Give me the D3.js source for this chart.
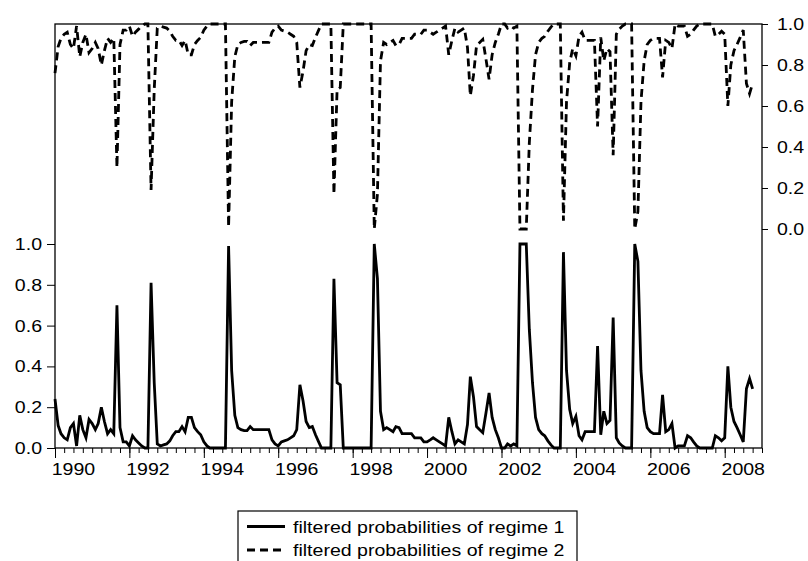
<!DOCTYPE html>
<html>
<head>
<meta charset="utf-8">
<script src="https://cdn.jsdelivr.net/npm/d3@7"></script>
<style>
  body { margin: 0; background: #fff; }
  svg { display: block; font-family: Arial, "Liberation Sans", sans-serif; }
</style>
</head>
<body>
<div id="chart"></div>
<script>
/* ================================================
   Filtered regime probabilities, monthly 1990:01 - 2008:10
   ================================================ */

var startYear = 1990;

// regime 1 (solid, left axis), one value per month
var regime1 = [
  0.24, 0.11, 0.07, 0.05, 0.04, 0.10, 0.12, 0.01, 0.16, 0.09, 0.05, 0.14,   // 1990
  0.12, 0.09, 0.12, 0.20, 0.13, 0.07, 0.09, 0.07, 0.70, 0.10, 0.03, 0.03,   // 1991
  0.01, 0.06, 0.04, 0.025, 0.01, 0.00, 0.00, 0.81, 0.32, 0.02, 0.01, 0.015, // 1992
  0.02, 0.035, 0.06, 0.08, 0.08, 0.105, 0.08, 0.15, 0.15, 0.10, 0.08, 0.065,// 1993
  0.03, 0.01, 0.00, 0.00, 0.00, 0.00, 0.00, 0.00, 0.99, 0.38, 0.16, 0.10,   // 1994
  0.09, 0.085, 0.085, 0.105, 0.09, 0.09, 0.09, 0.09, 0.09, 0.09, 0.04, 0.02,// 1995
  0.01, 0.03, 0.035, 0.04, 0.05, 0.06, 0.09, 0.31, 0.23, 0.13, 0.10, 0.105, // 1996
  0.065, 0.03, 0.00, 0.00, 0.00, 0.00, 0.83, 0.32, 0.31, 0.00, 0.00, 0.00,  // 1997
  0.00, 0.00, 0.00, 0.00, 0.00, 0.00, 0.00, 1.00, 0.83, 0.18, 0.09, 0.10,   // 1998
  0.09, 0.08, 0.105, 0.10, 0.07, 0.07, 0.07, 0.07, 0.05, 0.05, 0.05, 0.03,  // 1999
  0.03, 0.04, 0.05, 0.04, 0.03, 0.02, 0.01, 0.15, 0.08, 0.02, 0.04, 0.03,   // 2000
  0.02, 0.115, 0.35, 0.25, 0.105, 0.09, 0.075, 0.17, 0.27, 0.15, 0.09, 0.05,// 2001
  0.00, 0.00, 0.02, 0.01, 0.02, 0.01, 1.00, 1.00, 1.00, 0.58, 0.32, 0.15,   // 2002
  0.09, 0.07, 0.06, 0.035, 0.015, 0.00, 0.00, 0.00, 0.96, 0.38, 0.19, 0.12, // 2003
  0.155, 0.06, 0.04, 0.08, 0.08, 0.08, 0.08, 0.50, 0.065, 0.18, 0.12, 0.135,// 2004
  0.64, 0.05, 0.025, 0.01, 0.00, 0.00, 0.00, 1.00, 0.915, 0.38, 0.18, 0.10, // 2005
  0.08, 0.07, 0.07, 0.07, 0.26, 0.08, 0.09, 0.12, 0.00, 0.01, 0.01, 0.01,   // 2006
  0.06, 0.05, 0.03, 0.01, 0.00, 0.00, 0.00, 0.00, 0.00, 0.06, 0.05, 0.035,  // 2007
  0.05, 0.40, 0.20, 0.13, 0.10, 0.065, 0.03, 0.29, 0.34, 0.29               // 2008
];

// regime 2 (dashed, right axis)
var regime2 = [
  0.76, 0.89, 0.93, 0.95, 0.96, 0.90, 0.88, 0.99, 0.84, 0.91, 0.95, 0.86,
  0.88, 0.91, 0.88, 0.80, 0.87, 0.93, 0.91, 0.93, 0.30, 0.90, 0.97, 0.97,
  0.99, 0.94, 0.96, 0.975, 0.99, 1.00, 1.00, 0.19, 0.68, 0.98, 0.99, 0.985,
  0.98, 0.965, 0.94, 0.92, 0.92, 0.895, 0.92, 0.85, 0.85, 0.90, 0.92, 0.935,
  0.97, 0.99, 1.00, 1.00, 1.00, 1.00, 1.00, 1.00, 0.01, 0.62, 0.84, 0.90,
  0.91, 0.915, 0.915, 0.895, 0.91, 0.91, 0.91, 0.91, 0.91, 0.91, 0.96, 0.98,
  0.99, 0.97, 0.965, 0.96, 0.95, 0.94, 0.91, 0.69, 0.77, 0.87, 0.90, 0.895,
  0.935, 0.97, 1.00, 1.00, 1.00, 1.00, 0.17, 0.68, 0.69, 1.00, 1.00, 1.00,
  1.00, 1.00, 1.00, 1.00, 1.00, 1.00, 1.00, 0.00, 0.17, 0.82, 0.91, 0.90,
  0.91, 0.92, 0.895, 0.90, 0.93, 0.93, 0.93, 0.93, 0.95, 0.95, 0.95, 0.97,
  0.97, 0.96, 0.95, 0.96, 0.97, 0.98, 0.99, 0.85, 0.92, 0.98, 0.96, 0.97,
  0.98, 0.885, 0.65, 0.75, 0.895, 0.91, 0.925, 0.83, 0.73, 0.85, 0.91, 0.95,
  1.00, 1.00, 0.98, 0.99, 0.98, 0.99, 0.00, 0.00, 0.00, 0.42, 0.68, 0.85,
  0.91, 0.93, 0.94, 0.965, 0.985, 1.00, 1.00, 1.00, 0.04, 0.62, 0.81, 0.88,
  0.845, 0.94, 0.96, 0.92, 0.92, 0.92, 0.92, 0.50, 0.935, 0.82, 0.88, 0.865,
  0.36, 0.95, 0.975, 0.99, 1.00, 1.00, 1.00, 0.00, 0.085, 0.62, 0.82, 0.90,
  0.92, 0.93, 0.93, 0.93, 0.74, 0.92, 0.91, 0.88, 1.00, 0.99, 0.99, 0.99,
  0.94, 0.95, 0.97, 0.99, 1.00, 1.00, 1.00, 1.00, 1.00, 0.94, 0.95, 0.965,
  0.95, 0.60, 0.80, 0.87, 0.90, 0.935, 0.97, 0.71, 0.66, 0.71
];

var leftTicks  = [0, 0.2, 0.4, 0.6, 0.8, 1.0];
var rightTicks = [0, 0.2, 0.4, 0.6, 0.8, 1.0];
var yearLabels = [1990, 1992, 1994, 1996, 1998, 2000, 2002, 2004, 2006, 2008];
var legendLabels = ['filtered probabilities of regime 1', 'filtered probabilities of regime 2'];

var W = 808, H = 561;
var plotL = 55, plotR = 762, plotT = 24, plotB = 448;
var stretch = 'scale(1.15,1)';   // glyphs in the source are a bit wide

var dates = regime1.map(function(d, i) { return new Date(startYear, i, 1); });

var x = d3.scaleTime()
  .domain([new Date(1990, 0, 1), new Date(2009, 0, 1)])
  .range([plotL, plotR]);
var yLeft = d3.scaleLinear().domain([0, 1]).range([plotB, 244]);
var yRight = d3.scaleLinear().domain([0, 1]).range([229, plotT]);

var svg = d3.select('#chart')
  .append('svg')
  .attr('width', W).attr('height', H);

// frame
svg.append('rect')
  .attr('x', plotL).attr('y', plotT)
  .attr('width', plotR - plotL).attr('height', plotB - plotT)
  .attr('fill', 'none')
  .attr('stroke', '#000')
  .attr('stroke-width', 1.3);

// left axis
var gl = svg.append('g')
  .attr('transform', 'translate(' + plotL + ',0)')
  .call(d3.axisLeft(yLeft).tickValues(leftTicks).tickSize(8).tickSizeOuter(0)
    .tickPadding(3.3).tickFormat(d3.format('.1f')));
// right axis
var gr = svg.append('g')
  .attr('transform', 'translate(' + plotR + ',0)')
  .call(d3.axisRight(yRight).tickValues(rightTicks).tickSize(6).tickSizeOuter(0)
    .tickPadding(7).tickFormat(d3.format('.1f')));

[gl, gr].forEach(function(g) {
  g.select('.domain').remove();
  g.selectAll('text')
    .attr('transform', stretch)
    .attr('font-size', 17)
    .attr('font-family', 'Arial, "Liberation Sans", sans-serif')
    .attr('fill', '#000');
  g.selectAll('line').attr('stroke', '#000');
});

// bottom: quarterly minor ticks, 2-year major ticks
var gMinor = svg.append('g')
  .attr('transform', 'translate(0,' + plotB + ')')
  .call(d3.axisBottom(x).ticks(d3.timeMonth.every(3)).tickSize(5).tickSizeOuter(0).tickFormat(''));
var gMajor = svg.append('g')
  .attr('transform', 'translate(0,' + plotB + ')')
  .call(d3.axisBottom(x).ticks(d3.timeYear.every(2)).tickSize(10).tickSizeOuter(0).tickFormat(''));
[gMinor, gMajor].forEach(function(g) {
  g.select('.domain').remove();
  g.selectAll('line').attr('stroke', '#000');
});

// year labels sit in the middle of their year
yearLabels.forEach(function(yr) {
  var cx = x(new Date(yr, 6, 1));
  svg.append('text')
    .attr('transform', 'translate(' + cx + ',475) ' + stretch)
    .attr('text-anchor', 'middle')
    .attr('font-size', 17)
    .attr('fill', '#000')
    .text(yr);
});

// series
var line1 = d3.line()
  .x(function(d, i) { return x(dates[i]); })
  .y(function(d) { return yLeft(d); });
var line2 = d3.line()
  .x(function(d, i) { return x(dates[i]); })
  .y(function(d) { return yRight(d); });

svg.append('path')
  .attr('d', line2(regime2))
  .attr('fill', 'none')
  .attr('stroke', '#000')
  .attr('stroke-width', 2.8)
  .attr('stroke-dasharray', '8,5');

svg.append('path')
  .attr('d', line1(regime1))
  .attr('fill', 'none')
  .attr('stroke', '#000')
  .attr('stroke-width', 2.8);

// legend (box runs off the bottom edge, like the source)
var lg = svg.append('g');
lg.append('rect')
  .attr('x', 238).attr('y', 511)
  .attr('width', 339).attr('height', 60)
  .attr('fill', '#fff')
  .attr('stroke', '#000')
  .attr('stroke-width', 1.2);

legendLabels.forEach(function(lbl, i) {
  var ly = 526.5 + i * 23.5;
  lg.append('line')
    .attr('x1', 247).attr('x2', 285)
    .attr('y1', ly).attr('y2', ly)
    .attr('stroke', '#000')
    .attr('stroke-width', 2.8)
    .attr('stroke-dasharray', i === 1 ? '8,5' : null);
  lg.append('text')
    .attr('transform', 'translate(293,' + (ly + 6) + ') ' + stretch)
    .attr('font-size', 17)
    .attr('fill', '#000')
    .text(lbl);
});
</script>
</body>
</html>
